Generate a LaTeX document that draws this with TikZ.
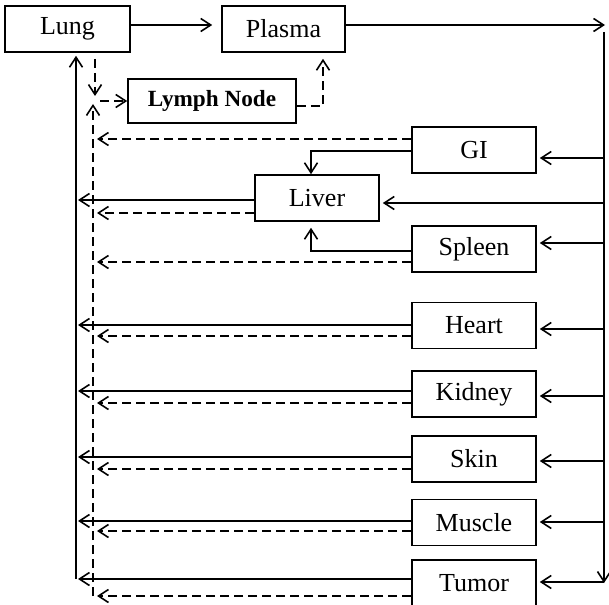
\documentclass[tikz,border=0pt]{standalone}
\usepackage{fontspec}
\setmainfont{Liberation Serif}
\usetikzlibrary{calc,arrows.meta,positioning}

\tikzset{
  box/.style={draw, line width=0.8pt, inner sep=0pt, minimum width=62pt, minimum height=23pt, font=\fontsize{13}{15}\selectfont},
  flow/.style={-{Straight Barb[length=5pt,width=6.5pt]}, line width=0.8pt},
  lymph/.style={flow, dash pattern=on 4.5pt off 2.5pt},
}

\begin{document}
\begin{tikzpicture}[x=0.5pt, y=-0.5pt]
  \useasboundingbox (0,0) rectangle (609,604);

  % compartments
  \node[box, minimum width=62.5pt] (Lung) at (67.5,29) {Lung};
  \node[box, minimum width=61.5pt] (Plasma) at (283.5,29) {Plasma};
  \node[box, minimum width=84pt, minimum height=22pt, font=\fontsize{11.6}{13}\selectfont\bfseries] (LN) at (212,101) {Lymph Node};
  \node[box] (Liver) at (317,198) {Liver};
  \foreach \o/\y in {GI/150, Spleen/249, Heart/325.5, Kidney/394, Skin/459, Muscle/522.5, Tumor/583}
    \node[box] (\o) at (474,\y) {\o};

  % collector lines
  \coordinate (sbus) at (76,579);
  \coordinate (dbus) at (93,596);
  \coordinate (dtop) at (93,104);
  \coordinate (lj) at (95,101);
  \coordinate (rtop) at (604,32);
  \coordinate (rbus) at (604,583);
  \coordinate (pout) at (605,25);

  \draw[flow, shorten >=1.5pt] (sbus) -- (sbus |- Lung.south);
  \draw[lymph] (dbus) -- (dtop);
  \draw[lymph, shorten <=3pt, shorten >=2.5pt] (Lung.south -| lj) -- (lj);
  \draw[lymph, shorten <=2.5pt] (lj) -- (LN.west);
  \draw[lymph, shorten >=3pt] ([yshift=-2.5pt]LN.east) -| ([xshift=19.75pt]Plasma.south);

  \draw[flow, shorten >=4.5pt] ([yshift=2pt]Lung.east) -- ([yshift=2pt]Plasma.west);
  \draw[flow] ([yshift=2pt]Plasma.east) -- (pout);
  \draw[flow] (rtop) -- (rbus);

  % GI and spleen drain into the liver
  \draw[flow] ([yshift=-0.5pt]GI.west) -| ([xshift=-3pt]Liver.north);
  \draw[flow, shorten >=3pt] ([yshift=-1pt]Spleen.west) -| ([xshift=-3pt]Liver.south);

  % arterial feeds
  \foreach \o/\r in {GI/-4, Liver/-2.5, Spleen/3, Heart/-1.75, Kidney/-1, Skin/-1, Muscle/0.25, Tumor/0.5} {
    \path ([yshift=\r pt]\o.east) coordinate (r-\o);
    \draw[flow, shorten >=1.5pt] (r-\o -| rbus) -- (r-\o);
  }

  % venous and lymph return
  \foreach \o/\s/\d in {Liver/-1/-7.5, Heart/0.25/-5.25, Kidney/1.5/-4.5, Skin/1/-5, Muscle/0.75/-4.25, Tumor/2/-6.5} {
    \path ([yshift=\s pt]\o.west) coordinate (s-\o)
          ([yshift=\d pt]\o.west) coordinate (d-\o);
    \draw[flow, shorten >=1pt] (s-\o) -- (s-\o -| sbus);
    \draw[lymph, shorten >=2pt] (d-\o) -- (d-\o -| dbus);
  }
  \foreach \o/\d in {GI/5.5, Spleen/-6.5} {
    \path ([yshift=\d pt]\o.west) coordinate (d-\o);
    \draw[lymph, shorten >=2pt] (d-\o) -- (d-\o -| dbus);
  }
\end{tikzpicture}
\end{document}
